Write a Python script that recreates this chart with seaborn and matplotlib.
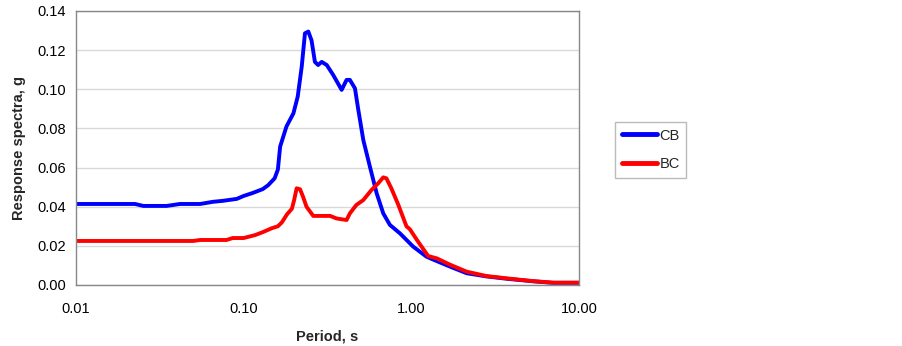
import numpy as np
import pandas as pd
import matplotlib
matplotlib.use("Agg")
import matplotlib.pyplot as plt
from matplotlib.ticker import FixedLocator, FixedFormatter, NullLocator
import seaborn as sns

# ---- data ----
cb_period = [0.010, 0.0225, 0.0252, 0.0347, 0.0417, 0.055, 0.0655, 0.075, 0.091, 0.100,
             0.113, 0.130, 0.140, 0.153, 0.160, 0.165, 0.180, 0.198, 0.210, 0.222,
             0.232, 0.243, 0.254, 0.266, 0.278, 0.292, 0.313, 0.342, 0.384, 0.411,
             0.430, 0.461, 0.483, 0.517, 0.566, 0.621, 0.680, 0.745, 0.855, 1.026,
             1.23, 1.34, 1.70, 2.14, 2.80, 3.70, 5.30, 7.00, 10.0]
cb_value = [0.0414, 0.0414, 0.0404, 0.0404, 0.0414, 0.0414, 0.0425, 0.0430, 0.0440, 0.0455,
            0.0470, 0.0490, 0.0510, 0.0545, 0.0590, 0.0707, 0.0810, 0.0877, 0.0962, 0.1116,
            0.1286, 0.1295, 0.1250, 0.1140, 0.1124, 0.1140, 0.1124, 0.1073, 0.0997, 0.1048,
            0.1048, 0.1005, 0.0894, 0.0741, 0.0605, 0.0469, 0.0366, 0.0307, 0.0264, 0.0196,
            0.0145, 0.0131, 0.0094, 0.0060, 0.0044, 0.0032, 0.0019, 0.0011, 0.0011]

bc_period = [0.010, 0.050, 0.055, 0.079, 0.086, 0.100, 0.117, 0.130, 0.147, 0.160,
             0.169, 0.181, 0.194, 0.200, 0.207, 0.217, 0.226, 0.237, 0.260, 0.328,
             0.358, 0.411, 0.430, 0.470, 0.517, 0.578, 0.635, 0.680, 0.710, 0.760,
             0.837, 0.935, 0.980, 1.08, 1.26, 1.42, 1.70, 2.14, 2.80, 3.70,
             5.30, 7.00, 10.0]
bc_value = [0.0225, 0.0225, 0.0230, 0.0230, 0.0240, 0.0240, 0.0255, 0.0270, 0.0290, 0.0300,
            0.0320, 0.0360, 0.0390, 0.0434, 0.0494, 0.0489, 0.0451, 0.0400, 0.0353, 0.0353,
            0.0340, 0.0332, 0.0366, 0.0409, 0.0434, 0.0485, 0.0520, 0.0550, 0.0545, 0.0494,
            0.0409, 0.0300, 0.0285, 0.0230, 0.0148, 0.0136, 0.0104, 0.0068, 0.0046, 0.0034,
            0.0020, 0.0012, 0.0012]

series_names = ["CB", "BC"]
series_colors = ["#0000FF", "#FF0000"]
x_ticks = [0.01, 0.1, 1.0, 10.0]
x_tick_labels = ["0.01", "0.10", "1.00", "10.00"]
y_ticks = [0.00, 0.02, 0.04, 0.06, 0.08, 0.10, 0.12, 0.14]
y_tick_labels = ["0.00", "0.02", "0.04", "0.06", "0.08", "0.10", "0.12", "0.14"]

df = pd.concat([
    pd.DataFrame({"Period": cb_period, "Value": cb_value, "Series": "CB"}),
    pd.DataFrame({"Period": bc_period, "Value": bc_value, "Series": "BC"}),
], ignore_index=True)

sns.set_theme(style="white")
plt.rcParams["font.family"] = ["Liberation Sans", "DejaVu Sans"]

fig = plt.figure(figsize=(9.03, 3.46), dpi=100)
ax = fig.add_axes([76 / 903, 61 / 346, 503 / 903, 274 / 346])

sns.lineplot(data=df, x="Period", y="Value", hue="Series", hue_order=series_names,
             palette=series_colors, linewidth=2.8, ax=ax, sort=False,
             estimator=None, legend=True)

ax.set_xscale("log")
ax.set_xlim(0.01, 10.0)
ax.set_ylim(0.0, 0.14)
ax.xaxis.set_major_locator(FixedLocator(x_ticks))
ax.xaxis.set_major_formatter(FixedFormatter(x_tick_labels))
ax.xaxis.set_minor_locator(NullLocator())
ax.set_yticks(y_ticks)
ax.set_yticklabels(y_tick_labels)

ax.yaxis.grid(True, color="#d9d9d9", linewidth=1.0)
ax.xaxis.grid(False)
ax.set_axisbelow(True)
for s in ax.spines.values():
    s.set_color("#888888")
    s.set_linewidth(1.0)

ax.tick_params(axis="both", which="major", direction="out", length=4, width=0.8,
               color="#888888", labelsize=10.5, labelcolor="black", pad=3)
ax.tick_params(axis="x", pad=8)

ax.set_xlabel("Period, s", fontsize=10.5, fontweight="bold", labelpad=10)
ax.set_ylabel("Response spectra, g", fontsize=10.5, fontweight="bold", labelpad=8)

leg = ax.legend(loc="upper left", bbox_to_anchor=(615 / 903, 1 - 122 / 346),
                bbox_transform=fig.transFigure, frameon=True, fancybox=False,
                edgecolor="#bbbbbb", framealpha=1, fontsize=10.5, handlelength=2.4,
                handletextpad=0.2, borderpad=0.45, labelspacing=1.0, borderaxespad=0)
for line in leg.get_lines():
    line.set_linewidth(3.5)
    line.set_solid_capstyle("round")
leg.get_frame().set_linewidth(1.0)

fig.savefig("out.png", dpi=100, facecolor="white")
